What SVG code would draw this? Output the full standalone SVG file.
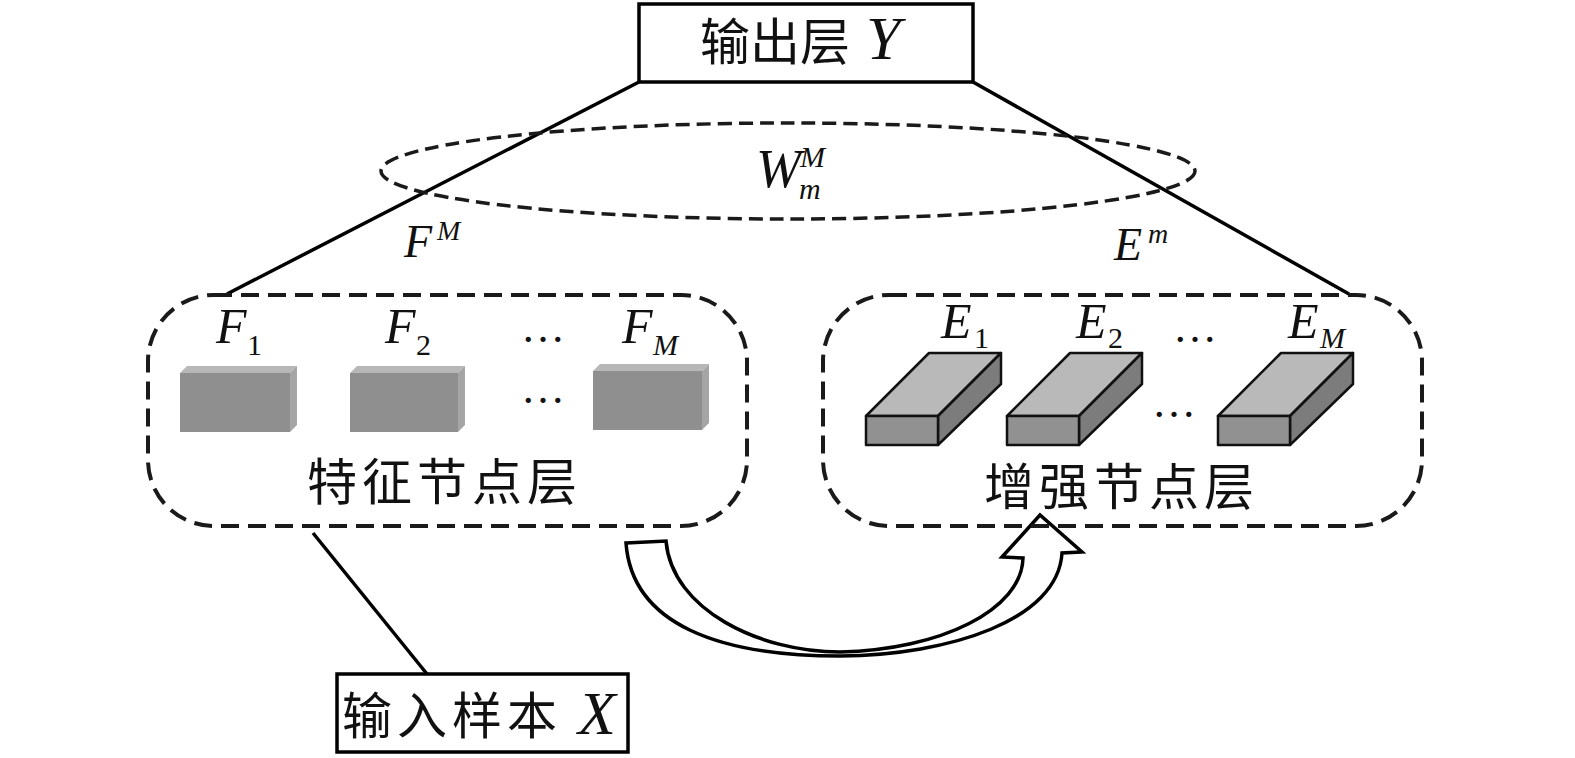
<svg xmlns="http://www.w3.org/2000/svg" width="1575" height="758" viewBox="0 0 1575 758">
<style>
.ln{stroke:#000;stroke-width:3.5;fill:none}
.box{stroke:#000;stroke-width:3.5;fill:#fff}
.dash{stroke:#1a1a1a;stroke-width:4;fill:none;stroke-dasharray:18 9}
.cjk{font-family:"Noto Sans CJK SC",sans-serif;font-size:50px;fill:#111}
.it{font-family:"Liberation Serif",serif;font-style:italic;fill:#111}
.rm{font-family:"Liberation Serif",serif;fill:#111}
.ff{fill:#8f8f8f}.ft{fill:#b7b7b7}.fs{fill:#a5a5a5}
.ef{fill:#919191;stroke:#111;stroke-width:2.5;stroke-linejoin:round}
.et{fill:#b9b9b9;stroke:#111;stroke-width:2.5;stroke-linejoin:round}
.es{fill:#7c7c7c;stroke:#111;stroke-width:2.5;stroke-linejoin:round}
</style>
<g id="connectors">
<line class="ln" x1="639" y1="82" x2="227" y2="294"/>
<line class="ln" x1="973" y1="82" x2="1349" y2="294"/>
<line class="ln" x1="313" y1="533" x2="427" y2="674"/>
<path class="ln" d="M626,543 L666,541 C672,610 760,652 840,652 C940,650 1022,610 1023,558 L1002,557 L1040,515 L1082,552 L1062,553 C1058,620 950,655 840,656 C720,656 632,625 626,543 Z" style="fill:#fff;stroke-width:3.5;stroke-linejoin:miter"/>
</g>
<g id="weights">
<ellipse cx="788" cy="171" rx="407" ry="48" style="stroke:#1a1a1a;stroke-width:3.5;fill:none;stroke-dasharray:14 7"/>
<text class="it" x="756" y="187" font-size="54">W</text>
<text class="it" x="800" y="167" font-size="30">M</text>
<text class="it" x="799" y="199" font-size="30">m</text>
<text class="it" x="404" y="257" font-size="46">F</text>
<text class="it" x="437" y="240" font-size="28">M</text>
<text class="it" x="1114" y="260" font-size="46">E</text>
<text class="it" x="1148" y="243" font-size="28">m</text>
</g>
<g id="output">
<rect class="box" x="639" y="4" width="334" height="78"/>
<text class="cjk" x="700" y="60">输出层</text>
<text class="it" x="866" y="59" font-size="62">Y</text>
</g>
<g id="feature">
<rect class="dash" x="148" y="295" width="599" height="231" rx="66" ry="66"/>
<text class="it" x="216" y="343" font-size="50">F</text><text class="rm" x="247" y="355" font-size="30">1</text>
<text class="it" x="385" y="343" font-size="50">F</text><text class="rm" x="416" y="355" font-size="30">2</text>
<text class="it" x="622" y="343" font-size="50">F</text><text class="it" x="653" y="355" font-size="30">M</text>
<text class="rm" x="521" y="342" font-size="44">…</text>
<text class="rm" x="521" y="403" font-size="44">…</text>
<g>
<polygon class="ft" points="180,373 187,366 297,366 290,373"/>
<polygon class="fs" points="290,373 297,366 297,425 290,432"/>
<rect class="ff" x="180" y="373" width="110" height="59"/>
</g>
<g>
<polygon class="ft" points="350,373 357,366 465,366 458,373"/>
<polygon class="fs" points="458,373 465,366 465,425 458,432"/>
<rect class="ff" x="350" y="373" width="108" height="59"/>
</g>
<g>
<polygon class="ft" points="593,371 600,364 709,364 702,371"/>
<polygon class="fs" points="702,371 709,364 709,423 702,430"/>
<rect class="ff" x="593" y="371" width="109" height="59"/>
</g>
<text class="cjk" x="307" y="500" letter-spacing="5">特征节点层</text>
</g>
<g id="enhance">
<rect class="dash" x="823" y="295" width="599" height="231" rx="66" ry="66"/>
<text class="it" x="941" y="338" font-size="50">E</text><text class="rm" x="974" y="348" font-size="30">1</text>
<text class="it" x="1076" y="338" font-size="50">E</text><text class="rm" x="1108" y="348" font-size="30">2</text>
<text class="it" x="1288" y="338" font-size="50">E</text><text class="it" x="1320" y="348" font-size="30">M</text>
<text class="rm" x="1173" y="342" font-size="44">…</text>
<text class="rm" x="1152" y="417" font-size="44">…</text>
<g>
<polygon class="et" points="866,416 938,416 1001,353 929,353"/>
<polygon class="es" points="938,416 1001,353 1001,384 938,445"/>
<rect class="ef" x="866" y="416" width="72" height="29"/>
</g>
<g>
<polygon class="et" points="1007,416 1079,416 1142,353 1070,353"/>
<polygon class="es" points="1079,416 1142,353 1142,384 1079,445"/>
<rect class="ef" x="1007" y="416" width="72" height="29"/>
</g>
<g>
<polygon class="et" points="1218,416 1290,416 1353,353 1281,353"/>
<polygon class="es" points="1290,416 1353,353 1353,384 1290,445"/>
<rect class="ef" x="1218" y="416" width="72" height="29"/>
</g>
<text class="cjk" x="984" y="505" letter-spacing="5">增强节点层</text>
</g>
<g id="input">
<rect class="box" x="337" y="674" width="291" height="78"/>
<text class="cjk" x="342" y="734" letter-spacing="5">输入样本</text>
<text class="it" x="578" y="734" font-size="62">X</text>
</g>
</svg>
